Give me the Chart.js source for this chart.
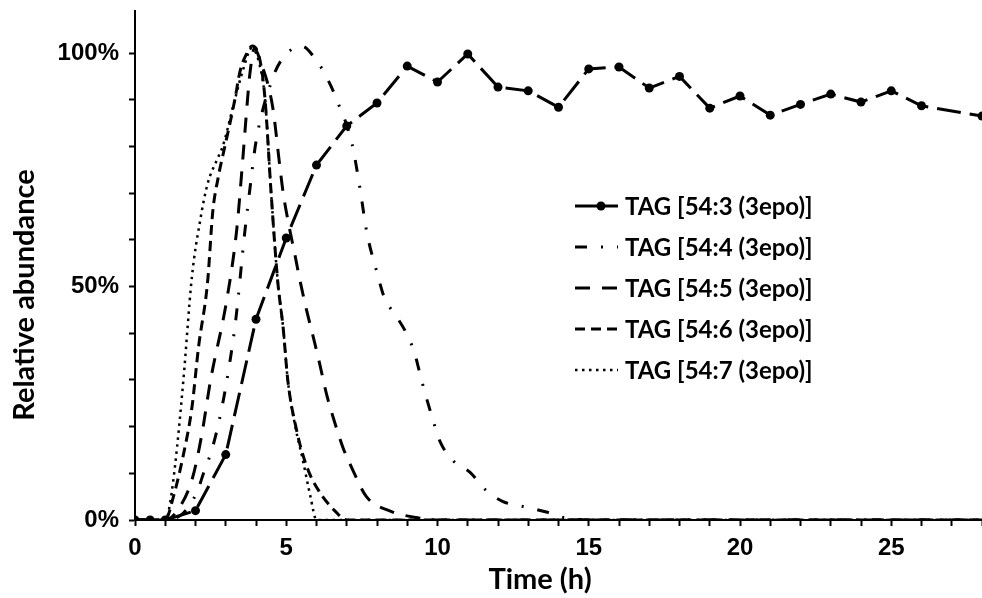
<!DOCTYPE html>
<html>
<head>
<meta charset="utf-8">
<script src="https://cdn.jsdelivr.net/npm/chart.js@4.4.0/dist/chart.umd.min.js"></script>
<style>
  html, body { margin: 0; padding: 0; background: #fff; }
  #contenedor { width: 982px; height: 598px; position: relative; }
</style>
</head>
<body>
<div id="contenedor"><canvas id="grafico"></canvas></div>
<script>
// Datos (tiempo en h, abundancia relativa en %)
const etiquetas = [
  'TAG [54:3 (3epo)]',
  'TAG [54:4 (3epo)]',
  'TAG [54:5 (3epo)]',
  'TAG [54:6 (3epo)]',
  'TAG [54:7 (3epo)]'
];

const tiempo543 = [0, 0.5, 1, 2, 3, 4, 5, 6, 7, 8, 9, 10, 11, 12, 13, 14, 15, 16, 17, 18, 19, 20, 21, 22, 23, 24, 25, 26, 28];
const valor543  = [0, 0, 0, 2, 14, 43, 60.4, 76, 84.4, 89.3, 97.2, 93.8, 99.8, 92.7, 91.9, 88.4, 96.6, 97, 92.5, 95, 88.2, 90.8, 86.7, 89, 91.2, 89.5, 91.9, 88.7, 86.5];

const tiempo544 = [0, 1, 1.6, 2.05, 2.3, 2.54, 2.87, 3.13, 3.33, 3.63, 3.8, 4.0, 4.55, 4.9, 5.5, 6.04, 6.4, 6.7, 7.17, 7.43, 7.66, 8.0, 8.25, 8.6, 8.97, 9.24, 9.47, 9.85, 10.07, 10.5, 11.06, 11.6, 12.15, 12.9, 13.6, 14.1, 15, 28];
const valor544  = [0, 0, 1.5, 6, 10.7, 15, 24, 33.6, 42.8, 61.7, 71, 81, 94.6, 99, 101.5, 98, 94, 89.5, 80.7, 71.3, 61.7, 53, 47.5, 44, 40, 35.8, 30, 21.4, 17, 12.8, 10.3, 6.4, 4, 2.8, 1.7, 0.6, 0, 0];

const tiempo545 = [0, 1, 1.5, 1.9, 2.2, 2.5, 3.03, 3.36, 3.56, 3.7, 3.8, 3.95, 4.13, 4.55, 4.79, 4.9, 5.1, 5.28, 5.45, 5.67, 5.9, 6.1, 6.33, 6.55, 6.87, 7.2, 7.65, 8.4, 9.4, 10, 28];
const valor545  = [0, 0, 3, 9, 18, 30, 47, 62, 77, 88.5, 95.7, 101, 98.5, 88.5, 75.6, 70, 62.7, 57, 51.4, 45, 39, 33.6, 27, 22, 15.6, 10.7, 5, 2, 0.4, 0, 0];

const tiempo546 = [0, 1, 1.27, 1.6, 1.88, 2.1, 2.4, 2.57, 2.74, 2.97, 3.14, 3.3, 3.47, 3.7, 3.88, 4.13, 4.3, 4.5, 4.72, 4.9, 5.05, 5.35, 5.68, 6.1, 6.6, 7, 28];
const valor546  = [0, 0, 5, 14, 24, 37, 51, 66, 73, 80, 85, 90, 96, 100, 101.5, 98.5, 90, 70, 51, 41, 30, 19, 11.4, 6, 2, 0, 0];

const tiempo547 = [0, 1, 1.1, 1.32, 1.6, 1.88, 2.15, 2.4, 2.7, 2.9, 3.3, 3.6, 3.85, 4.1, 4.3, 4.5, 4.72, 4.9, 5.05, 5.3, 5.55, 5.8, 6, 28];
const valor547  = [0, 0, 1.5, 11.4, 30, 52, 64, 72, 77, 80, 90, 97, 101, 98, 90, 70, 51, 41, 30, 20, 12.8, 5, 0, 0];

const ticksX = [0, 5, 10, 15, 20, 25];
const ticksY = [0, 50, 100];

function puntos(xs, ys) {
  return xs.map((x, i) => ({ x: x, y: ys[i] }));
}

function serie(indice, xs, ys, dash, ancho, radio) {
  return {
    label: etiquetas[indice],
    data: puntos(xs, ys),
    borderColor: '#000',
    backgroundColor: '#000',
    borderWidth: ancho,
    borderDash: dash,
    pointRadius: radio,
    pointHoverRadius: radio,
    pointBorderWidth: 0,
    cubicInterpolationMode: radio > 0 ? 'default' : 'monotone',
    tension: radio > 0 ? 0 : 0.4,
    fill: false
  };
}

// Leyenda y titulos de ejes dibujados a mano
const extras = {
  id: 'extras',
  afterDraw(chart) {
    const ctx = chart.ctx;
    ctx.save();
    ctx.fillStyle = '#000';
    ctx.strokeStyle = '#000';
    ctx.textBaseline = 'middle';
    ctx.font = 'bold 24px Lato';
    chart.data.datasets.forEach((ds, i) => {
      const y = 206 + i * 41;
      ctx.lineWidth = ds.borderWidth;
      ctx.setLineDash(i === 0 ? [] : ds.borderDash);
      ctx.beginPath();
      ctx.moveTo(575, y);
      ctx.lineTo(618, y);
      ctx.stroke();
      if (ds.pointRadius > 0) {
        ctx.setLineDash([]);
        ctx.beginPath();
        ctx.arc(601, y, ds.pointRadius, 0, Math.PI * 2);
        ctx.fill();
      }
      ctx.textAlign = 'left';
      ctx.fillText(ds.label, 625, y + 1);
    });

    ctx.font = 'bold 29px Lato';
    ctx.textAlign = 'center';
    ctx.fillText('Time (h)', 540, 580);

    ctx.translate(25, 295);
    ctx.rotate(-Math.PI / 2);
    ctx.fillText('Relative abundance', 0, 0);
    ctx.restore();
  }
};

const ctx = document.getElementById('grafico').getContext('2d');
new Chart(ctx, {
  type: 'line',
  data: {
    datasets: [
      serie(0, tiempo543, valor543, [24, 9], 3, 4.5),
      serie(1, tiempo544, valor544, [12, 14, 2, 14], 3, 0),
      serie(2, tiempo545, valor545, [15, 12], 3, 0),
      serie(3, tiempo546, valor546, [10, 6], 3, 0),
      serie(4, tiempo547, valor547, [2.5, 4.5], 2.5, 0)
    ]
  },
  options: {
    responsive: true,
    maintainAspectRatio: false,
    animation: false,
    layout: { autoPadding: false, padding: { top: 11, right: 0, left: 0, bottom: 0 } },
    plugins: {
      legend: { display: false },
      tooltip: { enabled: false }
    },
    scales: {
      x: {
        type: 'linear',
        min: 0,
        max: 28,
        afterFit: s => { s.height = 78; s.paddingLeft = 0; s.paddingRight = 0; },
        grid: { drawOnChartArea: false, drawTicks: true, tickLength: 6, tickColor: '#000', tickWidth: 2 },
        border: { display: true, color: '#000', width: 2 },
        ticks: {
          stepSize: 1,
          autoSkip: false,
          maxRotation: 0,
          includeBounds: false,
          color: '#000',
          padding: 8,
          font: { family: 'Liberation Sans', weight: 'bold', size: 24 },
          callback: v => ticksX.includes(v) ? String(v) : ''
        }
      },
      y: {
        min: 0,
        max: 109,
        afterFit: s => { s.width = 135; s.paddingTop = 0; s.paddingBottom = 0; },
        grid: { drawOnChartArea: false, drawTicks: true, tickLength: 6, tickColor: '#000', tickWidth: 2 },
        border: { display: true, color: '#000', width: 2 },
        ticks: {
          stepSize: 10,
          autoSkip: false,
          includeBounds: false,
          color: '#000',
          padding: 10,
          font: { family: 'Liberation Sans', weight: 'bold', size: 24 },
          callback: v => ticksY.includes(v) ? v + '%' : ''
        }
      }
    }
  },
  plugins: [extras]
});
</script>
</body>
</html>
